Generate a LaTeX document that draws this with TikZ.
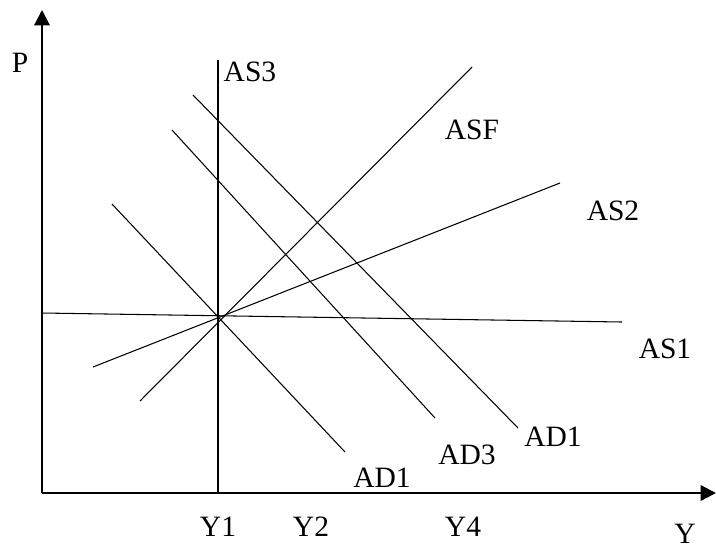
\documentclass[tikz,border=0pt]{standalone}
\usepackage{fontspec}
\setmainfont{Liberation Serif}
\usetikzlibrary{arrows.meta,positioning}

\tikzset{
  curve/.style={line width=0.75pt},
  axis/.style={line width=1.6pt,-{Triangle[width=11pt,length=11pt]}},
  lbl/.style={font=\fontsize{21}{24}\selectfont,inner sep=0pt}
}

\begin{document}
\begin{tikzpicture}[x=0.025cm,y=-0.025cm,>=Stealth]
  \useasboundingbox (0,0) rectangle (716,549);

  % axes
  \coordinate (O) at (42,493);
  \coordinate (Ptop) at (42,10);
  \coordinate (Yend) at (716,493);
  \draw[axis] (O) -- (Ptop);
  \draw[axis] (O) -- (Yend);
  \node[lbl] (P) at (20,63) {P};
  \node[lbl] (Y) at (685,534) {Y};

  % aggregate supply
  \coordinate (E) at (217,317);
  \coordinate (as3a) at (218,60);  \coordinate (as3b) at (218,493);
  \coordinate (as1a) at (42,313);  \coordinate (as1b) at (622,322);
  \coordinate (asfa) at (140,401); \coordinate (asfb) at (472,67);
  \coordinate (as2a) at (93,367);  \coordinate (as2b) at (560,183);
  \draw[curve] (as3a) -- (as3b);
  \draw[curve] (as1a) -- (as1b);
  \draw[curve] (asfa) -- (asfb);
  \draw[curve] (as2a) -- (as2b);
  \node[lbl] (AS3) at (250,72) {AS3};
  \node[lbl] (AS1) at (665,349) {AS1};
  \node[lbl] (ASF) at (472,130) {ASF};
  \node[lbl] (AS2) at (613,211) {AS2};

  % aggregate demand
  \coordinate (ad1a) at (112,204); \coordinate (ad1b) at (345,452);
  \coordinate (ad3a) at (172,130); \coordinate (ad3b) at (435,418);
  \coordinate (ad2a) at (193,95);  \coordinate (ad2b) at (518,428);
  \draw[curve] (ad1a) -- (ad1b);
  \draw[curve] (ad3a) -- (ad3b);
  \draw[curve] (ad2a) -- (ad2b);
  \node[lbl] (AD1) at (382,478) {AD1};
  \node[lbl] (AD3) at (467,455) {AD3};
  \node[lbl] (AD1b) at (553,437) {AD1};

  % output levels
  \node[lbl] (Y1) at (218,527) {Y1};
  \node[lbl] (Y2) at (311,527) {Y2};
  \node[lbl] (Y4) at (463,527) {Y4};
\end{tikzpicture}
\end{document}
